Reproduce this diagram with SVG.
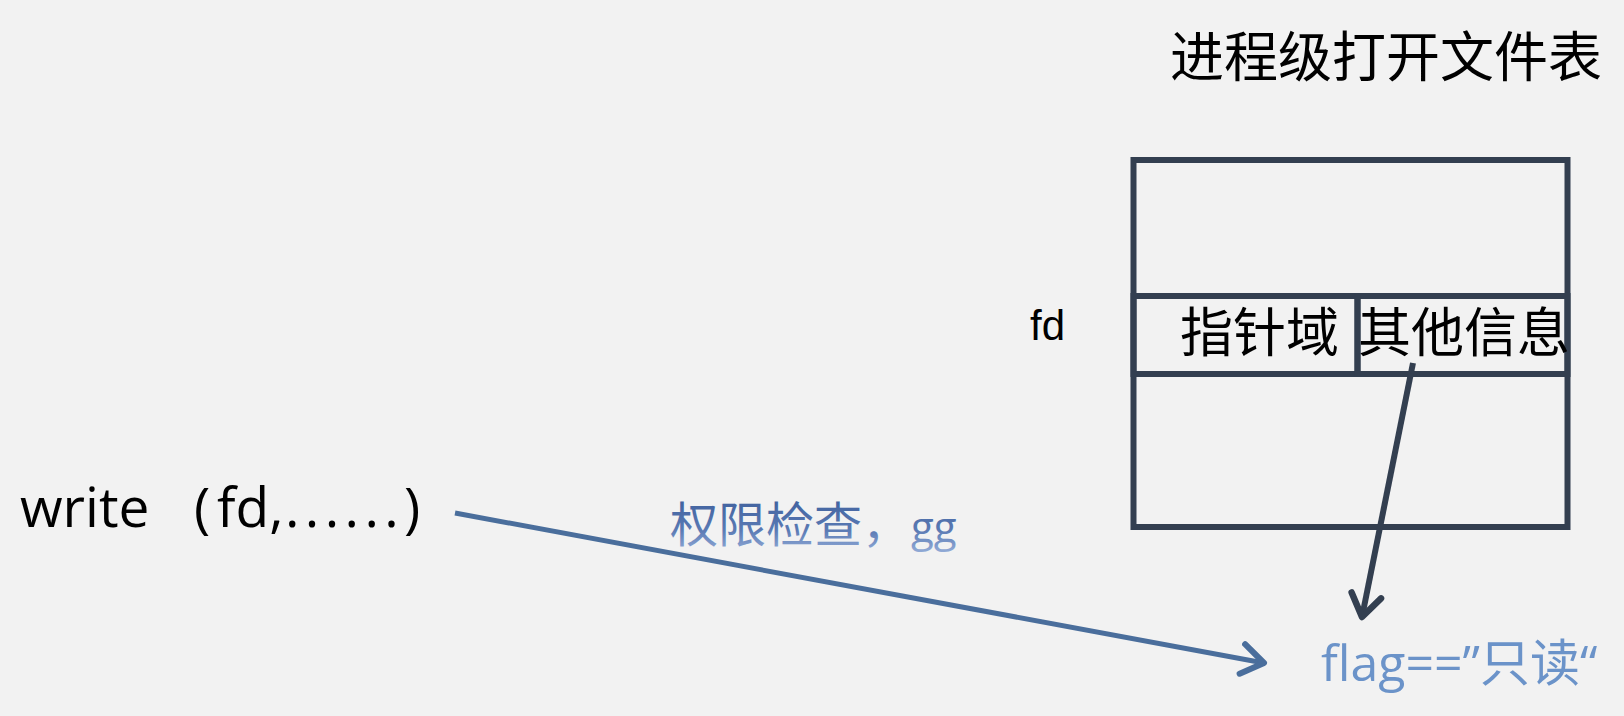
<svg xmlns="http://www.w3.org/2000/svg" width="1624" height="716" viewBox="0 0 1624 716">
  <style>
    .cjk { font-family: "Noto Sans CJK SC", sans-serif; }
    .lat { font-family: "Open Sans", "Noto Sans CJK SC", sans-serif; }
    .box { fill: none; stroke: #333f50; stroke-width: 6; }
    .blk { fill: #000000; }
  </style>
  <defs>
    <linearGradient id="gPerm" x1="0" y1="0" x2="0" y2="1">
      <stop offset="0" stop-color="#3a5b98"/>
      <stop offset="0.6" stop-color="#5a7ab4"/>
      <stop offset="1" stop-color="#9bb3dc"/>
    </linearGradient>
    <marker id="arrBlue" markerUnits="userSpaceOnUse" viewBox="-30 -20 36 40" refX="0" refY="0" markerWidth="36" markerHeight="40" orient="auto" overflow="visible">
      <path d="M-22,-15 L0,0 L-22,15" fill="none" stroke="#4a6e9c" stroke-width="6" stroke-linecap="round" stroke-linejoin="round"/>
    </marker>
    <marker id="arrDark" markerUnits="userSpaceOnUse" viewBox="-30 -20 36 40" refX="0" refY="0" markerWidth="36" markerHeight="40" orient="auto" overflow="visible">
      <path d="M-22,-15 L0,0 L-22,15" fill="none" stroke="#333f50" stroke-width="6.5" stroke-linecap="round" stroke-linejoin="round"/>
    </marker>
  </defs>
  <rect x="0" y="0" width="1624" height="716" fill="#f2f2f2"/>

  <g id="title">
    <text class="cjk blk" x="1170" y="77" font-size="54">进程级打开文件表</text>
  </g>

  <g id="table">
    <rect class="box" x="1133.5" y="160" width="434" height="367"/>
    <rect class="box" x="1133.5" y="296" width="224" height="78"/>
    <rect class="box" x="1357.5" y="296" width="210" height="78"/>
  </g>

  <g id="cell-pointer">
    <text class="cjk blk" x="1180" y="352" font-size="53">指针域</text>
  </g>
  <g id="cell-other">
    <text class="cjk blk" x="1358" y="352" font-size="53">其他信息</text>
  </g>

  <g id="fd-label">
    <text x="1030" y="340" font-family="Liberation Sans, Arial, sans-serif" font-size="42" fill="#000">fd</text>
  </g>

  <g id="write-call">
    <text class="lat blk" y="527" font-size="55"><tspan x="20">write</tspan><tspan x="194">(</tspan><tspan x="217">fd,</tspan><tspan x="285" letter-spacing="5.4">......)</tspan></text>
  </g>

  <g id="perm-label">
    <text class="lat" y="542" font-size="48" fill="url(#gPerm)"><tspan x="670">权限检查，</tspan><tspan x="911" font-size="42">gg</tspan></text>
  </g>

  <g id="flag-label">
    <text class="lat" x="1321" y="681" font-size="50" fill="#6b93c9">flag==”只读“</text>
  </g>

  <g id="connectors">
    <line x1="455" y1="513" x2="1264" y2="663" stroke="#4a6e9c" stroke-width="5" marker-end="url(#arrBlue)"/>
    <line x1="1413" y1="363" x2="1362" y2="617" stroke="#333f50" stroke-width="6" marker-end="url(#arrDark)"/>
  </g>
</svg>
